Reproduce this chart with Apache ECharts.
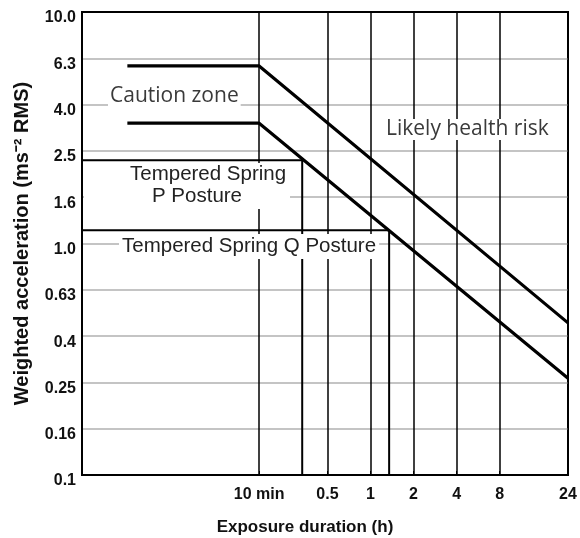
<!DOCTYPE html>
<html>
<head>
<meta charset="utf-8">
<script src="https://cdn.jsdelivr.net/npm/echarts@6/dist/echarts.min.js"></script>
<style>
  html, body { margin: 0; background: #fff; }
  #chart { width: 580px; height: 538px; }
</style>
</head>
<body>
<div id="chart"></div>
<script>
// y ticks sit 0.2 decade apart (log scale)
const yTickLabels = ['0.1', '0.16', '0.25', '0.4', '0.63', '1.0', '1.6', '2.5', '4.0', '6.3', '10.0']
// x ticks, in hours
const xTickHours = [1 / 6, 0.5, 1, 2, 4, 8, 24]
const xTickLabels = ['10 min', '0.5', '1', '2', '4', '8', '24']
const xMinHours = 0.00964
const xMaxHours = 24

// caution zone bounds: [hours, m/s²]
const upperBound = [[0.02, 5.85], [1 / 6, 5.85], [24, 0.454]]
const lowerBound = [[0.02, 3.31], [1 / 6, 3.31], [24, 0.262]]
// tempered spring limits
const springP = [[xMinHours, 2.29], [1 / 3, 2.29], [1 / 3, 0.1]]
const springQ = [[xMinHours, 1.14], [1.35, 1.14], [1.35, 0.1]]

const lg = (v) => Math.log10(v)
const toLog = (pts) => pts.map(([h, a]) => [lg(h), lg(a)])

const chart = echarts.init(document.getElementById('chart'))

const axisFont = { fontFamily: 'Liberation Sans', fontWeight: 'bold', color: '#111' }
const noteFont = '21px "Open Sans"'
const springFont = '20.5px "Liberation Sans"'

const lineSeries = (data, width) => ({
  type: 'line',
  data: toLog(data),
  symbol: 'none',
  silent: true,
  lineStyle: { color: '#000', width: width },
  z: 5,
})

chart.setOption({
  animation: false,
  grid: {
    left: 82,
    right: 12,
    top: 12,
    bottom: 63,
    outerBoundsMode: 'none',
    show: true,
    borderColor: '#000',
    borderWidth: 2,
  },
  xAxis: {
    type: 'value',
    min: lg(xMinHours),
    max: lg(xMaxHours),
    name: 'Exposure duration (h)',
    nameLocation: 'middle',
    nameGap: 44,
    nameTextStyle: { ...axisFont, fontSize: 17, padding: [0, 40, 0, 0] },
    axisLine: { show: true, onZero: false, lineStyle: { color: '#000', width: 2 } },
    axisTick: {
      show: true,
      inside: true,
      length: 4,
      customValues: xTickHours.map(lg),
      lineStyle: { color: '#000' },
    },
    axisLabel: {
      ...axisFont,
      fontSize: 16,
      margin: 12,
      customValues: xTickHours.map(lg),
      formatter: (v) => {
        const i = xTickHours.findIndex((h) => Math.abs(lg(h) - v) < 1e-6)
        return i >= 0 ? xTickLabels[i] : ''
      },
    },
    splitLine: { show: true, lineStyle: { color: '#000', width: 1.5 } },
  },
  yAxis: {
    type: 'value',
    min: -1,
    max: 1,
    interval: 0.2,
    name: 'Weighted acceleration (ms⁻² RMS)',
    nameLocation: 'middle',
    nameGap: 50,
    nameTextStyle: { ...axisFont, fontSize: 20 },
    axisLine: { show: true, onZero: false, lineStyle: { color: '#000', width: 2 } },
    axisTick: { show: false },
    axisLabel: {
      ...axisFont,
      fontSize: 16,
      margin: 6,
      verticalAlign: 'top',
      lineHeight: 12,
      formatter: (v) => yTickLabels[Math.round((v + 1) / 0.2)],
    },
    splitLine: {
      show: true,
      showMinLine: false,
      showMaxLine: false,
      lineStyle: { color: '#c4c4c4', width: 2 },
    },
  },
  series: [
    lineSeries(upperBound, 3.2),
    lineSeries(lowerBound, 3.2),
    lineSeries(springP, 2),
    lineSeries(springQ, 2),
  ],
  graphic: [
    {
      type: 'text', left: 108, top: 86, z: 10,
      style: { text: 'Caution zone', font: noteFont, fill: '#3a3a3a', backgroundColor: '#fff', padding: [0, 2] },
    },
    {
      type: 'text', left: 384, top: 119, z: 10,
      style: { text: 'Likely health risk', font: noteFont, fill: '#3a3a3a', backgroundColor: '#fff', padding: [0, 2] },
    },
    {
      type: 'rect', z: 9,
      shape: { x: 84, y: 163, width: 206, height: 46 },
      style: { fill: '#fff' },
    },
    {
      type: 'text', left: 130, top: 164, z: 10,
      style: { text: 'Tempered Spring', font: springFont, fill: '#222' },
    },
    {
      type: 'text', left: 152, top: 186, z: 10,
      style: { text: 'P Posture', font: springFont, fill: '#222' },
    },
    {
      type: 'text', left: 119, top: 234, z: 10,
      style: { text: 'Tempered Spring Q Posture', font: springFont, fill: '#222', backgroundColor: '#fff', padding: [2, 3] },
    },
  ],
})
</script>
</body>
</html>
